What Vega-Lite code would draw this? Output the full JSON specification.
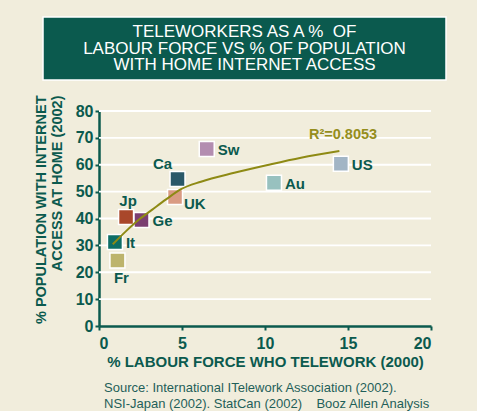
{
  "$schema": "https://vega.github.io/schema/vega-lite/v6.json",
  "background": "#F1EDDC",
  "padding": {"left": 33, "top": 16, "right": 30, "bottom": 0},
  "config": {"view": {"stroke": null}, "font": "Liberation Sans"},
  "spacing": 14,
  "datasets": {
    "titleLines": [
      {"text": ["TELEWORKERS AS A %\u00a0\u00a0OF", "LABOUR FORCE VS % OF POPULATION", "WITH HOME INTERNET ACCESS"]}
    ],
    "gridLines": [
      {"internet": 10, "telework": 0, "tw2": 20},
      {"internet": 20, "telework": 0, "tw2": 20},
      {"internet": 30, "telework": 0, "tw2": 20},
      {"internet": 40, "telework": 0, "tw2": 20},
      {"internet": 50, "telework": 0, "tw2": 20},
      {"internet": 60, "telework": 0, "tw2": 20},
      {"internet": 70, "telework": 0, "tw2": 20},
      {"internet": 80, "telework": 0, "tw2": 20}
    ],
    "points": [
      {"country": "It", "telework": 0.96, "internet": 31.3},
      {"country": "Fr", "telework": 1.11, "internet": 24.4},
      {"country": "Jp", "telework": 1.63, "internet": 40.6},
      {"country": "Ge", "telework": 2.56, "internet": 39.4},
      {"country": "Ca", "telework": 4.73, "internet": 54.7},
      {"country": "UK", "telework": 4.58, "internet": 48.0},
      {"country": "Sw", "telework": 6.49, "internet": 65.9},
      {"country": "Au", "telework": 10.54, "internet": 53.3},
      {"country": "US", "telework": 14.57, "internet": 60.4}
    ],
    "trend": [
      {"telework": 0.83, "internet": 30.4},
      {"telework": 1.63, "internet": 35.3},
      {"telework": 2.43, "internet": 39.7},
      {"telework": 3.23, "internet": 43.4},
      {"telework": 4.04, "internet": 47.1},
      {"telework": 4.94, "internet": 50.9},
      {"telework": 6.14, "internet": 53.7},
      {"telework": 8.15, "internet": 57.0},
      {"telework": 10.16, "internet": 59.9},
      {"telework": 12.17, "internet": 62.6},
      {"telework": 14.48, "internet": 65.1}
    ],
    "annot": [
      {"telework": 14.7, "internet": 71.1, "label": "R²=0.8053"}
    ]
  },
  "vconcat": [
    {
      "width": 403,
      "height": 63,
      "view": {"fill": "#0B5A4E", "stroke": "#FFFFFF", "strokeWidth": 1.5},
      "data": {"name": "titleLines"},
      "mark": {"type": "text", "color": "#FFFFFF", "fontSize": 17, "font": "Liberation Sans", "baseline": "middle", "lineHeight": 16.5, "dy": -16.5},
      "encoding": {
        "text": {"field": "text"}
      }
    },
    {
      "width": 388,
      "height": 215,
      "title": {
        "text": ["Source: International ITelework Association (2002).", "NSI-Japan (2002). StatCan (2002)\u00a0\u00a0\u00a0 Booz Allen Analysis"],
        "orient": "bottom",
        "anchor": "start",
        "frame": "group",
        "dx": 61,
        "offset": 13,
        "font": "Liberation Sans",
        "fontSize": 13,
        "fontWeight": "normal",
        "color": "#1F5F59",
        "lineHeight": 16
      },
      "encoding": {
        "x": {
          "field": "telework",
          "type": "quantitative",
          "scale": {"domain": [0, 20], "range": [56, 388], "nice": false, "zero": false},
          "axis": {
            "title": "% LABOUR FORCE WHO TELEWORK (2000)",
            "values": [0, 5, 10, 15, 20],
            "grid": false,
            "domainColor": "#0B5A4E",
            "domainWidth": 2.5,
            "tickColor": "#0B5A4E",
            "tickWidth": 2,
            "tickSize": 4,
            "labelFont": "Liberation Sans",
            "labelFontSize": 16,
            "labelFontWeight": "bold",
            "labelColor": "#0B5A4E",
            "labelPadding": 5,
            "titleFont": "Liberation Sans",
            "titleFontSize": 15,
            "titleFontWeight": "bold",
            "titleColor": "#0B5A4E",
            "titlePadding": 3
          }
        },
        "y": {
          "field": "internet",
          "type": "quantitative",
          "scale": {"domain": [0, 80], "nice": false},
          "axis": {
            "title": ["% POPULATION WITH INTERNET", "ACCESS AT HOME (2002)"],
            "values": [0, 10, 20, 30, 40, 50, 60, 70, 80],
            "offset": -56,
            "grid": false,
            "domainColor": "#0B5A4E",
            "domainWidth": 2.5,
            "tickColor": "#0B5A4E",
            "tickWidth": 2,
            "tickSize": 4,
            "labelFont": "Liberation Sans",
            "labelFontSize": 16,
            "labelFontWeight": "bold",
            "labelColor": "#0B5A4E",
            "labelPadding": 2,
            "titleFont": "Liberation Sans",
            "titleFontSize": 14.5,
            "titleFontWeight": "bold",
            "titleColor": "#0B5A4E",
            "titleAngle": 270,
            "titleAlign": "right",
            "titleBaseline": "top",
            "titleX": -65,
            "titleY": -16,
            "titleLineHeight": 16.5
          }
        }
      },
      "layer": [
        {
          "data": {"name": "gridLines"},
          "mark": {"type": "rule", "color": "#FFFFFF", "strokeWidth": 1.8},
          "encoding": {"x2": {"field": "tw2"}}
        },
        {
          "data": {"name": "points"},
          "mark": {"type": "square", "size": 225, "filled": true, "opacity": 1, "stroke": "#FFFFFF", "strokeWidth": 1.5},
          "encoding": {
            "color": {
              "field": "country",
              "type": "nominal",
              "legend": null,
              "scale": {
                "domain": ["It", "Fr", "Jp", "Ge", "Ca", "UK", "Sw", "Au", "US"],
                "range": ["#0E6E66", "#BDB46C", "#A9472A", "#7B3F72", "#2A5868", "#D99B83", "#B38DB0", "#98C1BF", "#A2B5C5"]
              }
            }
          }
        },
        {
          "data": {"name": "trend"},
          "mark": {"type": "line", "color": "#8E8A14", "strokeWidth": 2, "interpolate": "monotone"},
          "encoding": {}
        },
        {
          "data": {"name": "points"},
          "transform": [{"filter": {"field": "country", "oneOf": ["It", "Ge", "Sw", "Au", "US"]}}],
          "mark": {"type": "text", "align": "left", "baseline": "middle", "dx": 11, "dy": 1, "font": "Liberation Sans", "fontSize": 15, "fontWeight": "bold", "color": "#0B5A4E"},
          "encoding": {"text": {"field": "country"}}
        },
        {
          "data": {"name": "points"},
          "transform": [{"filter": {"field": "country", "equal": "UK"}}],
          "mark": {"type": "text", "align": "left", "baseline": "middle", "dx": 9, "dy": 7, "font": "Liberation Sans", "fontSize": 15, "fontWeight": "bold", "color": "#0B5A4E"},
          "encoding": {"text": {"field": "country"}}
        },
        {
          "data": {"name": "points"},
          "transform": [{"filter": {"field": "country", "equal": "Ca"}}],
          "mark": {"type": "text", "align": "center", "baseline": "middle", "dx": -15, "dy": -15, "font": "Liberation Sans", "fontSize": 15, "fontWeight": "bold", "color": "#0B5A4E"},
          "encoding": {"text": {"field": "country"}}
        },
        {
          "data": {"name": "points"},
          "transform": [{"filter": {"field": "country", "equal": "Jp"}}],
          "mark": {"type": "text", "align": "center", "baseline": "middle", "dx": 2, "dy": -16, "font": "Liberation Sans", "fontSize": 15, "fontWeight": "bold", "color": "#0B5A4E"},
          "encoding": {"text": {"field": "country"}}
        },
        {
          "data": {"name": "points"},
          "transform": [{"filter": {"field": "country", "equal": "Fr"}}],
          "mark": {"type": "text", "align": "center", "baseline": "middle", "dx": 4, "dy": 18, "font": "Liberation Sans", "fontSize": 15, "fontWeight": "bold", "color": "#0B5A4E"},
          "encoding": {"text": {"field": "country"}}
        },
        {
          "data": {"name": "annot"},
          "mark": {"type": "text", "align": "center", "baseline": "middle", "font": "Liberation Sans", "fontSize": 14.5, "fontWeight": "bold", "color": "#958E1C"},
          "encoding": {"text": {"field": "label"}}
        }
      ]
    }
  ]
}
